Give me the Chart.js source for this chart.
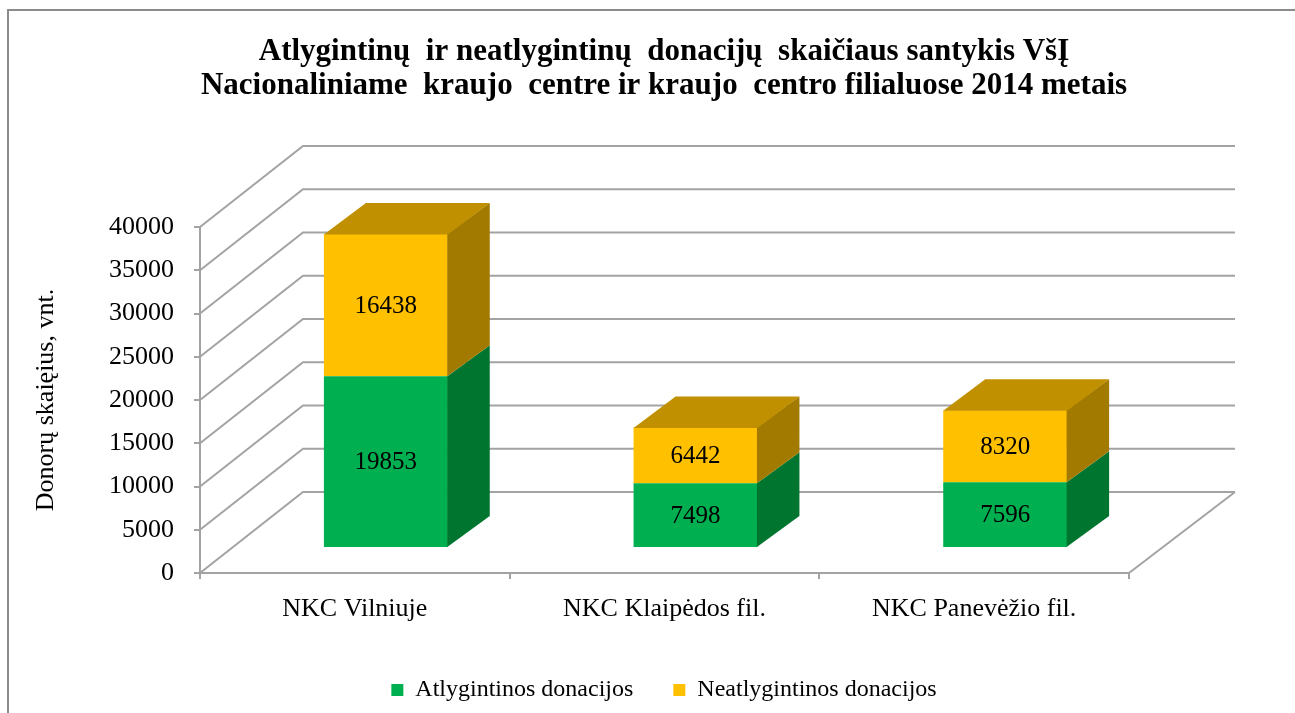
<!DOCTYPE html>
<html>
<head>
<meta charset="utf-8">
<script src="https://cdn.jsdelivr.net/npm/chart.js@4/dist/chart.umd.min.js"></script>
<style>
html,body{margin:0;padding:0;background:#fff;overflow:hidden}
canvas{display:block}
</style>
</head>
<body>
<canvas id="c" width="1295" height="713"></canvas>
<script>
// ---- data ----
const categories = ['NKC Vilniuje', 'NKC Klaipėdos fil.', 'NKC Panevėžio fil.'];
const paidDonations = [19853, 7498, 7596];
const unpaidDonations = [16438, 6442, 8320];
const seriesNames = ['Atlygintinos donacijos', 'Neatlygintinos donacijos'];
const titleLines = [
  'Atlygintinų  ir neatlygintinų  donacijų  skaičiaus santykis VšĮ',
  'Nacionaliniame  kraujo  centre ir kraujo  centro filialuose 2014 metais'
];
const yAxisTitle = 'Donorų skaięius, vnt.';
const yMin = 0, yMax = 40000, yStep = 5000;

// ---- styles ----
const FONT = "'Liberation Serif', 'Times New Roman', serif";
const GRID = '#a3a3a3';
const FRONT = ['#00b050', '#ffc000'];
const SIDE = ['#00752f', '#a27a00'];
const TOP = ['#00913f', '#c09000'];
const WALL = {dx: 103, dy: -81, extra: 3};
const BAR_SHIFT = {dx: 31, dy: -25};
const BAR_DEPTH = {dx: 42, dy: -31};

function poly(ctx, pts) {
  ctx.beginPath();
  ctx.moveTo(pts[0][0], pts[0][1]);
  for (let i = 1; i < pts.length; i++) ctx.lineTo(pts[i][0], pts[i][1]);
  ctx.closePath();
  ctx.fill();
}

const frame = {
  id: 'frame',
  beforeDraw(chart) {
    const ctx = chart.ctx;
    ctx.save();
    ctx.strokeStyle = '#8c8c8c';
    ctx.lineWidth = 2;
    ctx.strokeRect(8, 10, 1400, 800);
    ctx.restore();
  }
};

const walls = {
  id: 'walls',
  beforeDatasetsDraw(chart) {
    const {ctx, chartArea: a, scales: {y}} = chart;
    ctx.save();
    ctx.strokeStyle = GRID;
    ctx.lineWidth = 2;
    y.ticks.forEach(t => {
      const py = y.getPixelForValue(t.value);
      ctx.beginPath();
      ctx.moveTo(a.left, py);
      ctx.lineTo(a.left + WALL.dx, py + WALL.dy);
      ctx.lineTo(a.right + WALL.dx + WALL.extra, py + WALL.dy);
      ctx.stroke();
    });
    const p0 = y.getPixelForValue(0);
    ctx.beginPath();
    ctx.moveTo(a.right, p0);
    ctx.lineTo(a.right + WALL.dx + WALL.extra, p0 + WALL.dy);
    ctx.stroke();
    ctx.restore();
    ctx.save();
    ctx.translate(BAR_SHIFT.dx, BAR_SHIFT.dy);
  },
  afterDatasetsDraw(chart) {
    const ctx = chart.ctx;
    const metas = chart.getSortedVisibleDatasetMetas();
    metas.forEach((meta, di) => {
      meta.data.forEach(bar => {
        const p = bar.getProps(['x', 'y', 'base', 'width'], true);
        const l = p.x - p.width / 2, r = p.x + p.width / 2;
        const top = Math.min(p.y, p.base), bot = Math.max(p.y, p.base);
        ctx.fillStyle = SIDE[di];
        poly(ctx, [[r - 0.5, top], [r + BAR_DEPTH.dx, top + BAR_DEPTH.dy],
                   [r + BAR_DEPTH.dx, bot + BAR_DEPTH.dy], [r - 0.5, bot]]);
        if (di === metas.length - 1) {
          ctx.fillStyle = TOP[di];
          poly(ctx, [[l, top + 0.5], [l + BAR_DEPTH.dx, top + BAR_DEPTH.dy],
                     [r + BAR_DEPTH.dx, top + BAR_DEPTH.dy], [r, top + 0.5]]);
        }
      });
    });
    ctx.font = '25px ' + FONT;
    ctx.fillStyle = '#000';
    ctx.textAlign = 'center';
    ctx.textBaseline = 'middle';
    metas.forEach(meta => {
      const values = chart.data.datasets[meta.index].data;
      meta.data.forEach((bar, i) => {
        const p = bar.getProps(['x', 'y', 'base'], true);
        ctx.fillText(String(values[i]), p.x, (p.y + p.base) / 2 + 1);
      });
    });
    ctx.restore();
  }
};

new Chart(document.getElementById('c'), {
  type: 'bar',
  data: {
    labels: categories,
    datasets: [
      {label: seriesNames[0], data: paidDonations, backgroundColor: FRONT[0], borderWidth: 0,
       barPercentage: 0.4, categoryPercentage: 1.0},
      {label: seriesNames[1], data: unpaidDonations, backgroundColor: FRONT[1], borderWidth: 0,
       barPercentage: 0.4, categoryPercentage: 1.0}
    ]
  },
  options: {
    responsive: false,
    animation: false,
    devicePixelRatio: 1,
    layout: {padding: {left: 33, right: 0, top: 0, bottom: 1}},
    plugins: {
      title: {
        display: true,
        text: titleLines,
        color: '#000',
        font: {family: FONT, size: 31, weight: 'bold', lineHeight: 1.1},
        padding: {top: 34.5, bottom: 124.3}
      },
      legend: {
        display: true,
        position: 'bottom',
        labels: {
          color: '#000',
          font: {family: FONT, size: 24},
          boxWidth: 12,
          boxHeight: 12,
          padding: 40
        }
      },
      tooltip: {enabled: false}
    },
    scales: {
      x: {
        stacked: true,
        offset: true,
        grid: {display: true, drawOnChartArea: false, drawTicks: true, tickLength: 6,
               color: GRID, lineWidth: 2, offset: true},
        border: {display: true, color: GRID, width: 2},
        ticks: {color: '#000', font: {family: FONT, size: 26}, padding: 15, maxRotation: 0},
        afterFit: s => { s.height = 65; }
      },
      y: {
        stacked: true,
        min: yMin,
        max: yMax,
        ticks: {stepSize: yStep, color: '#000', font: {family: FONT, size: 26}, padding: 20,
                callback: v => String(v)},
        grid: {display: true, drawOnChartArea: false, drawTicks: true, tickLength: 6,
               color: GRID, lineWidth: 2},
        border: {display: true, color: GRID, width: 2},
        title: {display: true, text: yAxisTitle, color: '#000',
                font: {family: FONT, size: 26, lineHeight: 1.0}, padding: {top: 0, bottom: 0}},
        afterFit: s => { s.width = 167; }
      },
      y2: {
        type: 'linear',
        position: 'right',
        display: true,
        grid: {display: false},
        border: {display: false},
        ticks: {display: false},
        afterFit: s => { s.width = 166; }
      }
    }
  },
  plugins: [frame, walls]
});
</script>
</body>
</html>
